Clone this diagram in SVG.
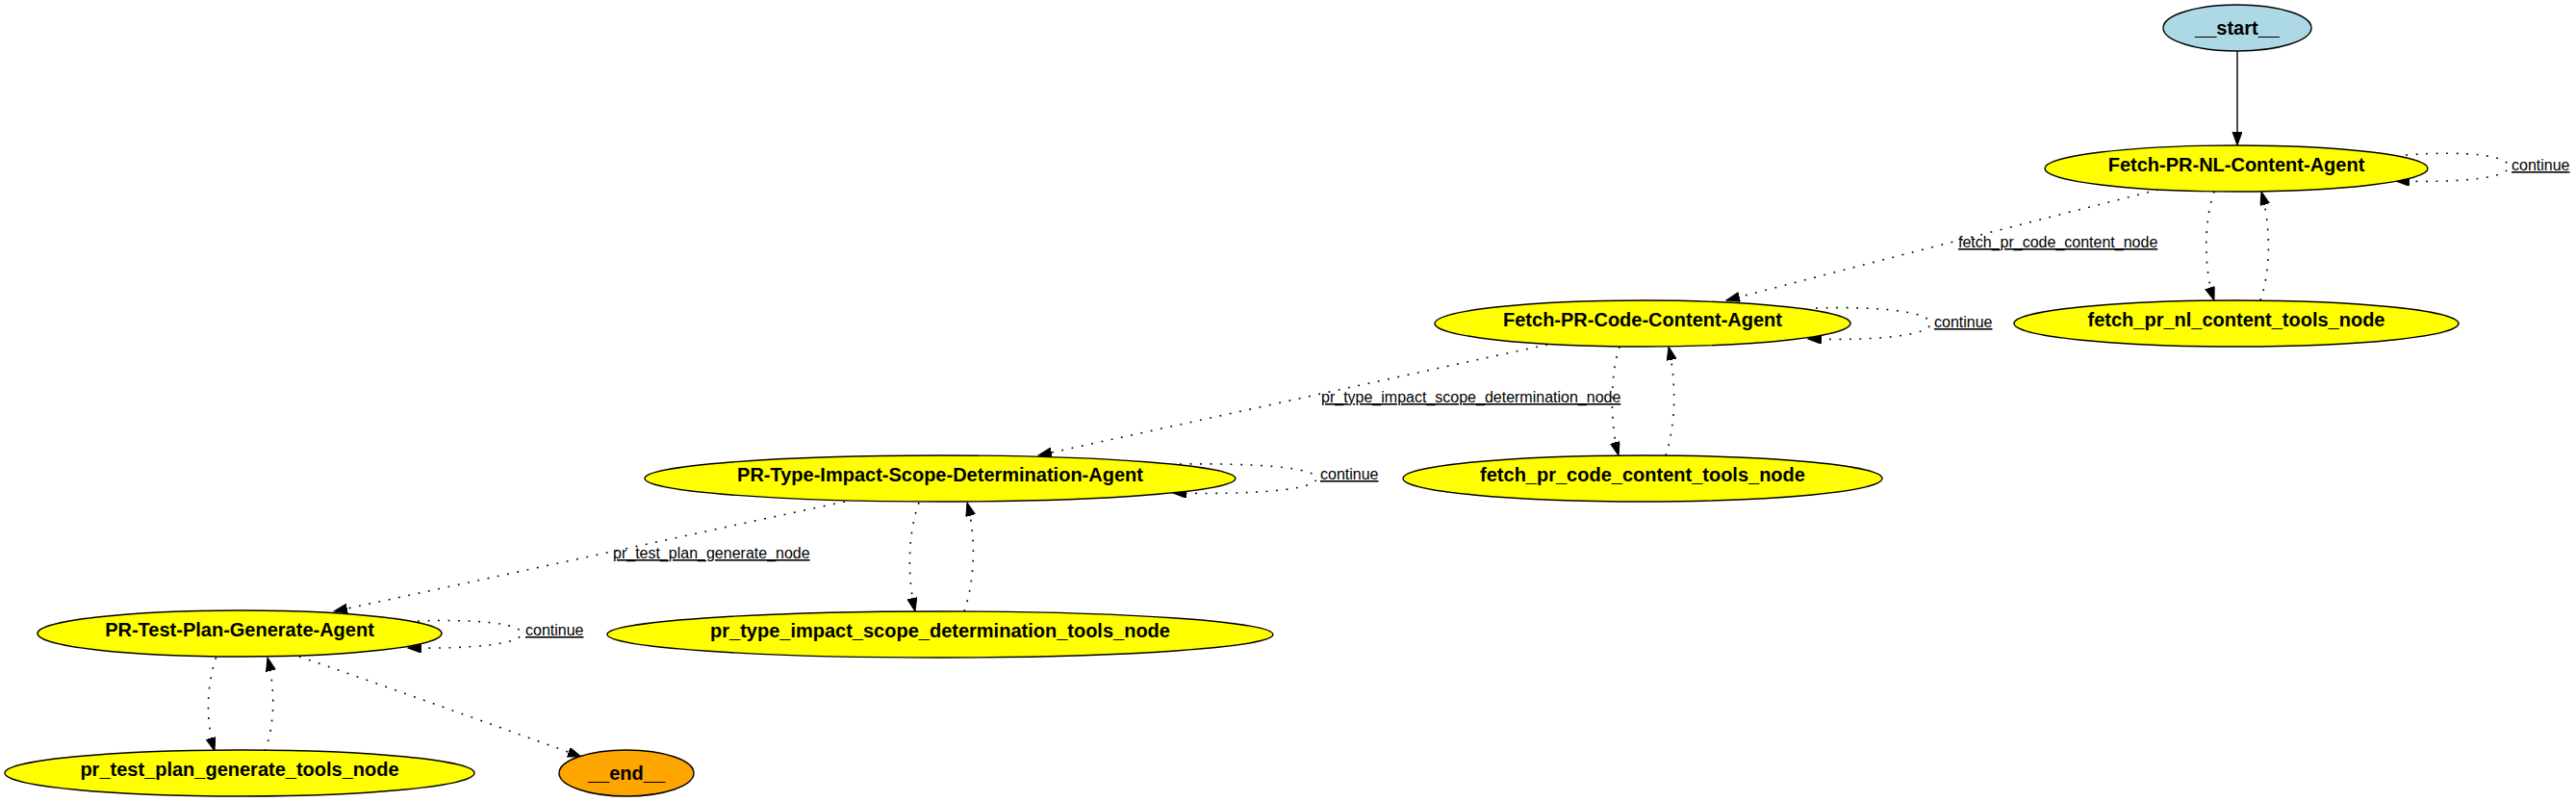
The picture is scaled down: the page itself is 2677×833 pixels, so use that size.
<svg xmlns="http://www.w3.org/2000/svg" width="2677" height="833" viewBox="0 0 2677 833">
<defs>
<style>
.node ellipse{stroke:#000;stroke-width:1.4}
.y{fill:#ffff00}
.nt{font-family:"Liberation Sans",Arial,sans-serif;font-weight:bold;font-size:20px;text-anchor:middle;fill:#000}
.el{font-family:"Liberation Sans",Arial,sans-serif;font-size:16px;fill:#000;text-decoration:underline}
.e{fill:none;stroke:#000;stroke-width:1.6;stroke-dasharray:1.8 8.7;marker-end:url(#arr)}
.s{fill:none;stroke:#000;stroke-width:1.4;marker-end:url(#arr)}
</style>
<marker id="arr" markerUnits="userSpaceOnUse" markerWidth="15" markerHeight="11" refX="14" refY="5" orient="auto">
<path d="M0,0 L14,5 L0,10 Z" fill="#000" stroke="#000" stroke-width="1"/>
</marker>
</defs>
<rect width="2677" height="833" fill="#fff"/>
<g id="connectors">
<path class="s" d="M2325,53 L2325,151"/>
<path class="e" d="M2500,161 C2565,156 2607,162 2607,173 C2607,184 2565,190 2490,188"/>
<path class="e" d="M2301,199 C2290,230 2290,280 2301,312"/>
<path class="e" d="M2349,312 C2360,280 2360,235 2350,199"/>
<path class="e" d="M2243,197 C2100,233 1940,274 1794,312"/>
<text class="el" x="2035" y="257">fetch_pr_code_content_node</text>
<path class="e" d="M1887,320 C1955,318 2006,324 2006,336 C2006,348 1955,354 1879,352"/>
<path class="e" d="M1683,360 C1673,390 1673,440 1682,473"/>
<path class="e" d="M1731,473 C1742,440 1742,395 1734,360"/>
<path class="e" d="M1608,358 C1440,394 1250,436 1079,473"/>
<text class="el" x="1373" y="418">pr_type_impact_scope_determination_node</text>
<path class="e" d="M1226,482 C1300,481 1368,485 1368,497 C1368,509 1300,514 1219,512"/>
<path class="e" d="M955,522 C943,555 943,600 951,635"/>
<path class="e" d="M1002,635 C1014,600 1014,555 1005,522"/>
<path class="e" d="M878,521 C700,559 520,598 347,635"/>
<text class="el" x="637" y="580">pr_test_plan_generate_node</text>
<path class="e" d="M434,645 C490,643 542,647 542,658 C542,669 490,674 424,673"/>
<path class="e" d="M224.5,683 C214,715 214,750 223,780"/>
<path class="e" d="M275.5,780 C286,750 286,715 278,683"/>
<path class="e" d="M311,682 C410,716 510,752 604,786"/>
<text class="el" x="2610" y="177">continue</text>
<text class="el" x="2010" y="340">continue</text>
<text class="el" x="1372" y="498">continue</text>
<text class="el" x="546" y="660">continue</text>
</g>
<g id="node-start" class="node"><ellipse cx="2325" cy="29" rx="77" ry="24" fill="#add8e6"/><text class="nt" x="2325" y="36">__start__</text></g>
<g id="node-fetch-nl" class="node"><ellipse class="y" cx="2324" cy="175" rx="199" ry="24"/><text class="nt" x="2324" y="178">Fetch-PR-NL-Content-Agent</text></g>
<g id="node-fetch-nl-tools" class="node"><ellipse class="y" cx="2324" cy="336" rx="231" ry="24"/><text class="nt" x="2324" y="339">fetch_pr_nl_content_tools_node</text></g>
<g id="node-fetch-code" class="node"><ellipse class="y" cx="1707" cy="336" rx="216" ry="24"/><text class="nt" x="1707" y="339">Fetch-PR-Code-Content-Agent</text></g>
<g id="node-fetch-code-tools" class="node"><ellipse class="y" cx="1707" cy="497" rx="249" ry="24"/><text class="nt" x="1707" y="500">fetch_pr_code_content_tools_node</text></g>
<g id="node-pr-type" class="node"><ellipse class="y" cx="977" cy="497" rx="307" ry="24"/><text class="nt" x="977" y="500">PR-Type-Impact-Scope-Determination-Agent</text></g>
<g id="node-pr-type-tools" class="node"><ellipse class="y" cx="977" cy="659" rx="346" ry="24"/><text class="nt" x="977" y="662">pr_type_impact_scope_determination_tools_node</text></g>
<g id="node-pr-test" class="node"><ellipse class="y" cx="249" cy="658" rx="210" ry="24"/><text class="nt" x="249" y="661">PR-Test-Plan-Generate-Agent</text></g>
<g id="node-pr-test-tools" class="node"><ellipse class="y" cx="249" cy="803" rx="244" ry="24"/><text class="nt" x="249" y="806">pr_test_plan_generate_tools_node</text></g>
<g id="node-end" class="node"><ellipse cx="651" cy="803" rx="70" ry="24" fill="#ffa500"/><text class="nt" x="651" y="810">__end__</text></g>
</svg>
